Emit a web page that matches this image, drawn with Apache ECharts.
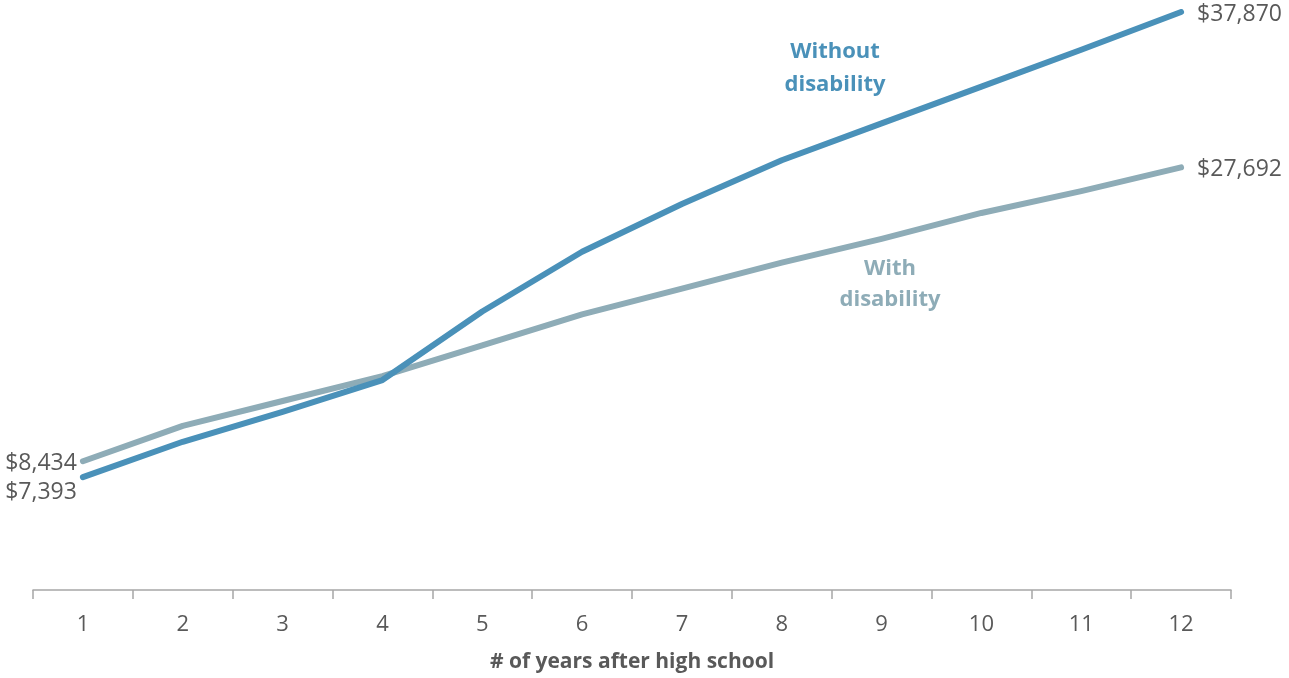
<!DOCTYPE html>
<html>
<head>
<meta charset="utf-8">
<script src="https://cdn.jsdelivr.net/npm/echarts@6/dist/echarts.min.js"></script>
<style>html,body{margin:0;padding:0;background:#fff}#c{width:1289px;height:678px}</style>
</head>
<body>
<div id="c"></div>
<script>
const years = ['1','2','3','4','5','6','7','8','9','10','11','12'];
const withoutDisability = [7393, 9712, 11667, 13753, 18250, 22161, 25290, 28158, 30570, 32981, 35393, 37870];
const withDisability = [8434, 10755, 12384, 14014, 16034, 18055, 19750, 21444, 23009, 24703, 26137, 27692];
const xAxisTitle = '# of years after high school';
const seriesNames = ['Without disability', 'With disability'];

const fmt = v => '$' + v.toLocaleString('en-US');
const FONT = '"Open Sans", "Noto Sans", sans-serif';
const C_WITHOUT = '#4a91b9';
const C_WITH = '#8eacb7';
const GREY = '#595959';

function buildData(arr, firstOffset) {
  return arr.map((v, i) => {
    const item = { value: v };
    if (i === 0) {
      item.label = { show: true, position: 'left', distance: 6, offset: firstOffset, formatter: fmt(v) };
    } else if (i === arr.length - 1) {
      item.label = { show: true, position: 'right', distance: 16, offset: [0, 2], formatter: fmt(v) };
    }
    return item;
  });
}

const chart = echarts.init(document.getElementById('c'), null, { renderer: 'canvas' });
chart.setOption({
  animation: false,
  backgroundColor: '#fff',
  grid: { left: 33, right: 58, top: 12, bottom: 85, containLabel: false },
  xAxis: {
    type: 'category',
    data: years,
    boundaryGap: true,
    axisLine: { show: true, lineStyle: { color: '#a6a6a6', width: 1.5 } },
    axisTick: { show: true, length: 9, interval: 0, lineStyle: { color: '#a6a6a6', width: 1.5 } },
    axisLabel: { color: GREY, fontSize: 22, fontFamily: FONT, margin: 24, interval: 0 },
    name: xAxisTitle,
    nameLocation: 'middle',
    nameGap: 62,
    nameTextStyle: { color: GREY, fontSize: 21, fontWeight: 'bold', fontFamily: FONT }
  },
  yAxis: { type: 'value', min: 0, max: 37870, show: false, splitLine: { show: false } },
  series: [
    {
      name: seriesNames[0],
      type: 'line',
      data: buildData(withoutDisability, [0, 15]),
      symbol: 'circle', symbolSize: 0, showSymbol: true,
      lineStyle: { color: C_WITHOUT, width: 6, cap: 'round', join: 'round' },
      itemStyle: { color: C_WITHOUT },
      label: { color: GREY, fontSize: 23, fontFamily: FONT },
      z: 3
    },
    {
      name: seriesNames[1],
      type: 'line',
      data: buildData(withDisability, [0, 2]),
      symbol: 'circle', symbolSize: 0, showSymbol: true,
      lineStyle: { color: C_WITH, width: 6, cap: 'round', join: 'round' },
      itemStyle: { color: C_WITH },
      label: { color: GREY, fontSize: 23, fontFamily: FONT },
      z: 2
    }
  ],
  graphic: [
    { type: 'text', x: 835, y: 68, style: { text: 'Without\ndisability', fill: C_WITHOUT, font: 'bold 22px ' + FONT, align: 'center', verticalAlign: 'middle', lineHeight: 33 } },
    { type: 'text', x: 890, y: 284, style: { text: 'With\ndisability', fill: C_WITH, font: 'bold 22px ' + FONT, align: 'center', verticalAlign: 'middle', lineHeight: 31 } }
  ]
});
</script>
</body>
</html>
